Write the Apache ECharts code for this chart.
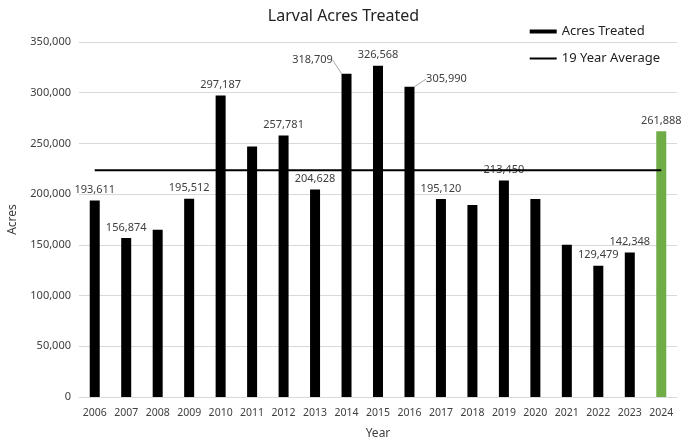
<!DOCTYPE html>
<html>
<head>
<meta charset="utf-8">
<script src="https://cdn.jsdelivr.net/npm/echarts@6/dist/echarts.min.js"></script>
<style>
  html, body { margin: 0; padding: 0; background: #fff; }
  #chart { width: 687px; height: 439px; }
</style>
</head>
<body>
<div id="chart"></div>
<script>
const years = ['2006', '2007', '2008', '2009', '2010', '2011', '2012', '2013', '2014', '2015',
  '2016', '2017', '2018', '2019', '2020', '2021', '2022', '2023', '2024']
const acres = [193611, 156874, 165000, 195512, 297187, 247000, 257781, 204628, 318709, 326568,
  305990, 195120, 189200, 213450, 195100, 150000, 129479, 142348, 261888]
// years whose bar carries no value label in the original
const unlabeledYears = ['2008', '2011', '2018', '2020', '2021']
const average = 223500
const yTicks = [0, 50000, 100000, 150000, 200000, 250000, 300000, 350000]

const fontFamily = 'Noto Sans'
const textColor = '#404040'

// labels that were pulled aside with a leader line
const labelShift = {
  '2014': { dx: -34, dy: -3 },
  '2016': { dx: 37, dy: 3 }
}

const fmt = v => v.toLocaleString('en-US')

const chart = echarts.init(document.getElementById('chart'))
chart.setOption({
  animation: false,
  textStyle: { fontFamily: fontFamily },
  title: {
    text: 'Larval Acres Treated',
    left: 'center',
    top: 3,
    textStyle: { fontFamily: fontFamily, fontSize: 16, fontWeight: 'normal', color: '#222' }
  },
  legend: {
    orient: 'vertical',
    right: 22,
    top: 20,
    itemWidth: 27,
    itemHeight: 14,
    itemGap: 14,
    textStyle: { fontFamily: fontFamily, fontSize: 13, color: '#222' },
    data: [
      { name: 'Acres Treated', icon: 'path://M0,0 H27 V4 H0 Z' },
      { name: '19 Year Average', icon: 'path://M0,0 H27 V2 H0 Z' }
    ]
  },
  grid: { left: 79, right: 10, top: 42, bottom: 42, outerBoundsMode: 'none' },
  xAxis: {
    type: 'category',
    data: years,
    name: 'Year',
    nameLocation: 'middle',
    nameGap: 31,
    nameTextStyle: { fontSize: 12, color: textColor },
    axisLine: { lineStyle: { color: '#d9d9d9' } },
    axisTick: { show: false },
    axisLabel: { interval: 0, fontSize: 10.5, color: textColor, margin: 11 }
  },
  yAxis: {
    type: 'value',
    min: yTicks[0],
    max: yTicks[yTicks.length - 1],
    interval: yTicks[1] - yTicks[0],
    name: 'Acres',
    nameLocation: 'middle',
    nameGap: 60,
    nameTextStyle: { fontSize: 12, color: textColor },
    axisLine: { show: false },
    axisTick: { show: false },
    splitLine: { lineStyle: { color: '#d9d9d9' } },
    axisLabel: { fontSize: 11, color: textColor, formatter: v => fmt(v) }
  },
  series: [
    {
      name: 'Acres Treated',
      type: 'bar',
      barWidth: 10,
      itemStyle: { color: '#000' },
      data: acres.map((v, i) => {
        const item = { value: v }
        if (years[i] === '2024') item.itemStyle = { color: '#70ad47' }
        if (unlabeledYears.includes(years[i])) item.label = { show: false }
        if (labelShift[years[i]]) item.labelLine = { show: true }
        return item
      }),
      label: {
        show: true,
        position: 'top',
        distance: 5,
        fontSize: 11,
        color: textColor,
        formatter: p => fmt(p.value)
      },
      labelLine: {
        show: false,
        lineStyle: { color: '#a6a6a6', width: 1 }
      },
      labelLayout: p => labelShift[years[p.dataIndex]] || {}
    },
    {
      name: '19 Year Average',
      type: 'line',
      symbol: 'none',
      z: 5,
      lineStyle: { color: '#000', width: 2 },
      itemStyle: { color: '#000' },
      data: years.map(() => average)
    }
  ]
})
</script>
</body>
</html>
